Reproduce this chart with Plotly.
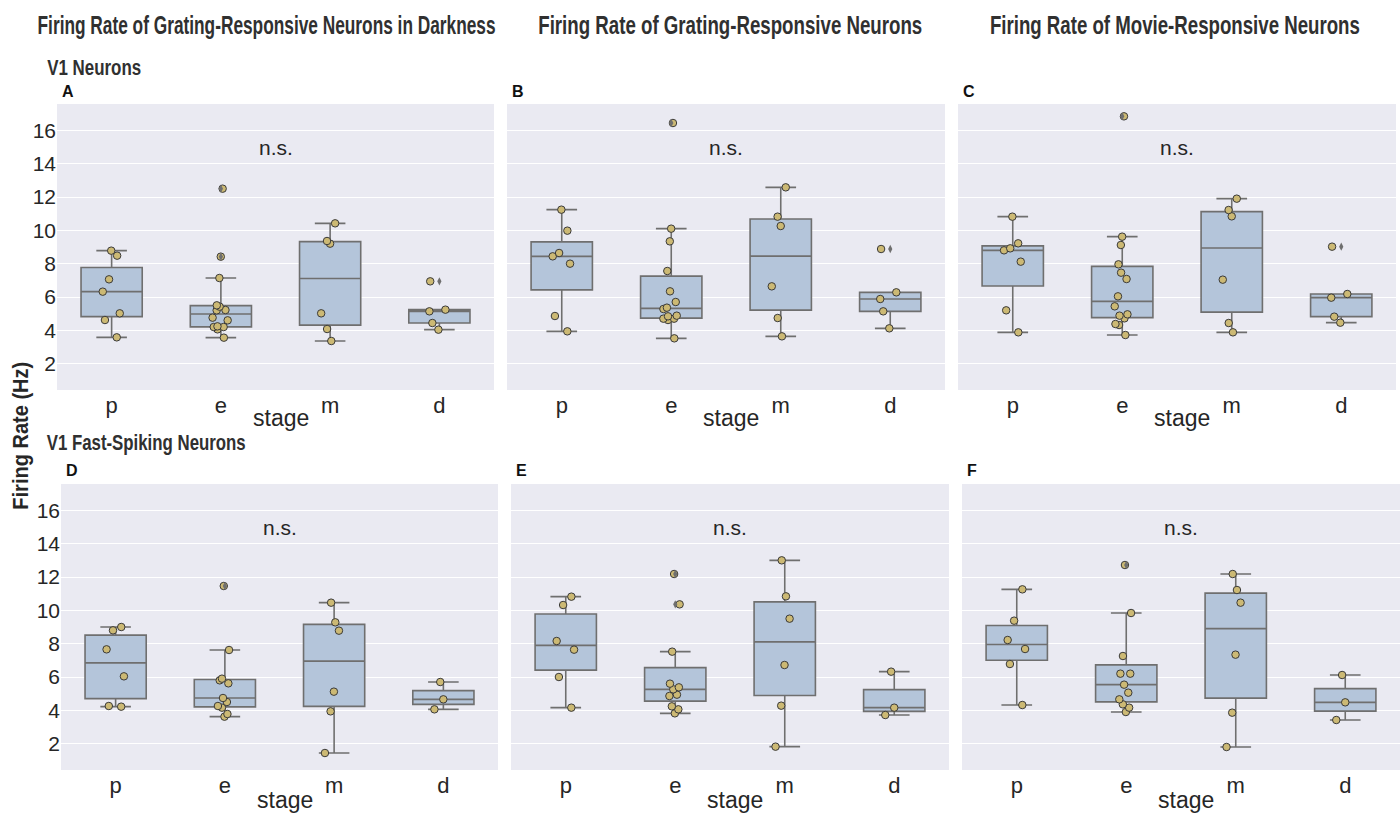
import json
import numpy as np
import plotly.graph_objects as go

stages = ["p", "e", "m", "d"]

# Firing rates (Hz) per stage [p, e, m, d]
panel_a = [
    [8.78, 8.48, 7.06, 6.32, 5.02, 4.62, 3.58],
    [12.5, 8.42, 7.14, 5.5, 5.42, 5.22, 5.2, 4.76, 4.6, 4.24, 4.2, 4.2, 4.06, 3.56],
    [10.42, 9.36, 9.2, 5.02, 4.08, 3.36],
    [6.94, 5.24, 5.14, 4.44, 4.04],
]
panel_b = [
    [11.24, 9.98, 8.64, 8.44, 8.0, 4.86, 3.94],
    [16.44, 10.1, 9.34, 7.56, 6.34, 5.7, 5.36, 5.28, 4.88, 4.84, 4.7, 4.7, 4.62, 3.52],
    [12.58, 10.82, 10.26, 6.64, 4.74, 3.64],
    [8.88, 6.28, 5.88, 5.14, 4.12],
]
panel_c = [
    [10.82, 9.22, 8.92, 8.8, 8.12, 5.2, 3.88],
    [16.84, 9.62, 9.12, 7.96, 7.46, 7.08, 6.04, 5.44, 4.96, 4.88, 4.72, 4.38, 4.32, 3.72],
    [11.9, 11.22, 10.84, 7.04, 4.44, 3.88],
    [9.02, 6.18, 5.96, 4.82, 4.46],
]
panel_d = [
    [9.0, 8.8, 7.66, 6.04, 4.26, 4.22],
    [11.46, 7.62, 5.9, 5.8, 5.62, 4.74, 4.5, 4.26, 4.16, 3.78, 3.62],
    [10.46, 9.28, 8.78, 5.12, 3.94, 1.44],
    [5.7, 4.66, 4.06],
]
panel_e = [
    [10.82, 10.32, 8.16, 7.64, 6.0, 4.16],
    [12.18, 10.36, 7.52, 5.6, 5.38, 5.26, 4.94, 4.86, 4.24, 4.06, 3.82],
    [13.0, 10.84, 9.5, 6.72, 4.28, 1.82],
    [6.32, 4.16, 3.72],
]
panel_f = [
    [11.26, 9.38, 8.22, 7.68, 6.78, 4.32],
    [12.72, 9.84, 7.26, 6.2, 6.2, 5.54, 5.06, 4.66, 4.36, 4.16, 3.9],
    [12.18, 11.22, 10.46, 7.34, 3.86, 1.8],
    [6.12, 4.48, 3.42],
]

column_titles = [
    "Firing Rate of Grating-Responsive Neurons in Darkness",
    "Firing Rate of Grating-Responsive Neurons",
    "Firing Rate of Movie-Responsive Neurons",
]
row_titles = ["V1 Neurons", "V1 Fast-Spiking Neurons"]
panel_letters = ["A", "B", "C", "D", "E", "F"]
y_label = "Firing Rate (Hz)"
x_label = "stage"
y_ticks = [2, 4, 6, 8, 10, 12, 14, 16]

W, H = 1400, 816
panels = [panel_a, panel_b, panel_c, panel_d, panel_e, panel_f]
# pixel boxes of plot areas (left, right, top, bottom)
boxes_px = [
    (57, 494, 104, 390), (507, 945, 104, 390), (958, 1396, 104, 390),
    (61, 498, 484, 770), (511, 949, 484, 770), (962, 1400, 484, 770),
]

BOX_FILL = "#B4C5DA"
BOX_LINE = "#6F6F6F"
DOT_FILL = "#CCB974"
DOT_EDGE = "#3A3A3A"
TXT = "#262626"
SANS = "Liberation Sans, Arial, sans-serif"


def box_stats(vals):
    a = np.asarray(vals, dtype=float)
    q1, med, q3 = np.percentile(a, [25, 50, 75])
    iqr = q3 - q1
    lo_lim, hi_lim = q1 - 1.5 * iqr, q3 + 1.5 * iqr
    inside = a[(a >= lo_lim) & (a <= hi_lim)]
    out = a[(a < lo_lim) | (a > hi_lim)]
    return q1, med, q3, inside.min(), inside.max(), out


fig = go.Figure()
layout = dict()
annotations = []

for i, (pdata, (l, r, t, b)) in enumerate(zip(panels, boxes_px)):
    n = "" if i == 0 else str(i + 1)
    xa, ya = "x" + n, "y" + n
    q1s, meds, q3s, los, his = [], [], [], [], []
    out_x, out_y = [], []
    xs, ys = [], []
    for s, vals in zip(stages, pdata):
        q1, med, q3, lo, hi, out = box_stats(vals)
        q1s.append(q1); meds.append(med); q3s.append(q3); los.append(lo); his.append(hi)
        out_x += [s] * len(out)
        out_y += list(out)
        xs += [s] * len(vals)
        ys += vals
    fig.add_trace(go.Box(
        x=stages, q1=q1s, median=meds, q3=q3s, lowerfence=los, upperfence=his,
        xaxis=xa, yaxis=ya, boxpoints=False,
        fillcolor=BOX_FILL, line=dict(color=BOX_LINE, width=1.6),
        whiskerwidth=0.5, showlegend=False, hoverinfo="skip",
    ))
    fig.add_trace(go.Scatter(
        x=out_x, y=out_y, xaxis=xa, yaxis=ya, mode="markers",
        marker=dict(symbol="diamond-tall", size=6, color=BOX_LINE),
        showlegend=False, hoverinfo="skip",
    ))
    fig.add_trace(go.Box(
        x=xs, y=ys, xaxis=xa, yaxis=ya,
        boxpoints="all", pointpos=0, jitter=0.35,
        fillcolor="rgba(0,0,0,0)", line=dict(color="rgba(0,0,0,0)", width=0),
        marker=dict(symbol="circle", size=7.5, color=DOT_FILL,
                    line=dict(color=DOT_EDGE, width=1)),
        showlegend=False, hoverinfo="skip",
    ))
    layout["xaxis" + n] = dict(
        domain=[l / W, r / W], anchor=ya, type="category",
        categoryorder="array", categoryarray=stages, range=[-0.5, 3.5],
        showgrid=False, zeroline=False, showline=False, ticks="",
        tickfont=dict(family=SANS, size=22, color=TXT),
    )
    layout["yaxis" + n] = dict(
        domain=[1 - b / H, 1 - t / H], anchor=xa, range=[0.42, 17.58],
        tickvals=y_ticks, showticklabels=(i % 3 == 0),
        showgrid=True, gridcolor="white", gridwidth=1.3,
        zeroline=False, showline=False, ticks="",
        tickfont=dict(family=SANS, size=21, color=TXT),
    )
    annotations.append(dict(x=1.5, y=14.95, xref=xa, yref=ya, text="n.s.",
                            showarrow=False, font=dict(family=SANS, size=21, color=TXT)))
    annotations.append(dict(x=(l + 3) / W, y=1 - (t - 13) / H, xref="paper", yref="paper",
                            text=panel_letters[i], showarrow=False,
                            xanchor="left", yanchor="middle",
                            font=dict(family=SANS, size=16, color="#111", weight=700)))
    sy = 418 if i < 3 else 800
    annotations.append(dict(x=((l + r) / 2 + 5) / W, y=1 - sy / H, xref="paper", yref="paper",
                            text=x_label, showarrow=False, xanchor="center", yanchor="middle",
                            font=dict(family=SANS, size=23, color=TXT)))

# narrow headings: (text, centre x, centre y, target width, size)
headings = [
    (column_titles[0], 266, 25, 458, 26),
    (column_titles[1], 730, 25, 384, 26),
    (column_titles[2], 1175, 25, 370, 26),
    (row_titles[0], 94, 67, 94, 22),
    (row_titles[1], 146, 443, 199, 22),
]
squeeze = {}
for txt, cx, cy, wd, sz in headings:
    annotations.append(dict(x=cx / W, y=1 - cy / H, xref="paper", yref="paper", text=txt,
                            showarrow=False, xanchor="center", yanchor="middle",
                            font=dict(family=SANS, size=sz, color="#303030", weight=700)))
    squeeze[txt] = wd
annotations.append(dict(x=20 / W, y=1 - 436 / H, xref="paper", yref="paper",
                        text=y_label, textangle=-90, showarrow=False,
                        xanchor="center", yanchor="middle",
                        font=dict(family=SANS, size=22, color=TXT, weight=700)))
squeeze[y_label] = 148

fig.update_layout(
    width=W, height=H, margin=dict(l=0, r=0, t=0, b=0),
    paper_bgcolor="white", plot_bgcolor="#EAEAF2",
    boxmode="overlay", boxgap=0.2,
    annotations=annotations, **layout,
)

post = """
document.body.style.margin = '0';
var sq = %s;
function squeezeText() {
  document.querySelectorAll('g.annotation-text-g').forEach(function (g) {
    var t = g.querySelector('text.annotation-text');
    if (!t) return;
    var k = t.textContent;
    if (!sq[k]) return;
    t.setAttribute('textLength', sq[k]);
    t.setAttribute('lengthAdjust', 'spacingAndGlyphs');
    var r = g.querySelector('rect.bg');
    if (r && !r.getAttribute('data-sq')) {
      var x = parseFloat(r.getAttribute('x')) || 0;
      var w = parseFloat(r.getAttribute('width')) || 0;
      var nw = sq[k] + 4;
      if (w > nw) {
        r.setAttribute('x', x + (w - nw) / 2);
        r.setAttribute('width', nw);
      }
      r.setAttribute('data-sq', '1');
    }
  });
}
squeezeText();
var gd = document.getElementById('{plot_id}');
if (gd && gd.on) { gd.on('plotly_afterplot', squeezeText); }
""" % json.dumps(squeeze)

fig.write_html("out.html", post_script=post, config={"displayModeBar": False})
